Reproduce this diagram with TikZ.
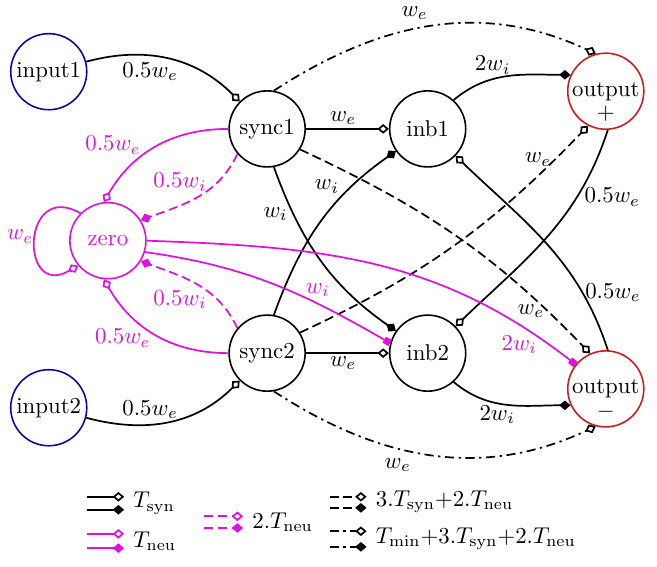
\documentclass[tikz,border=0pt]{standalone}
\usepackage{amsmath}
\usepackage{xcolor}
\usetikzlibrary{arrows.meta,positioning,calc}
\definecolor{InBlue}{RGB}{10,10,170}
\definecolor{OutRed}{RGB}{205,30,30}
\definecolor{ZeroMag}{RGB}{225,15,225}
\tikzset{
  neuron/.style={draw,circle,line width=0.7pt,minimum size=1.17cm,inner sep=0pt},
  innode/.style={neuron,draw=InBlue},
  outnode/.style={neuron,draw=OutRed},
  zeronode/.style={neuron,draw=ZeroMag,text=ZeroMag},
  exc/.style={-{Diamond[open,length=5pt,width=4.2pt]},line width=0.75pt},
  inh/.style={-{Diamond[length=5pt,width=4.2pt]},line width=0.75pt},
  inhsq/.style={-{Square[length=3pt,width=3pt]},line width=0.75pt},
  dsh/.style={dash pattern=on 4pt off 2pt},
  dshdot/.style={dash pattern=on 4pt off 2pt on 1pt off 2pt},
  lbl/.style={inner sep=1pt},
  sign/.style={inner sep=0pt},
}
\begin{document}
\begin{tikzpicture}
    \useasboundingbox (0,0) rectangle (10.108,8.723);
    % Node definitions
    \node[innode] (input1) at (0.75, 7.62) {input1};
    \node[innode] (input2) at (0.75, 2.45) {input2};
    \node[zeronode] (zero) at (1.66, 5.02) {zero};
    \node[neuron] (sync1) at (4.11, 6.74) {sync1};
    \node[neuron] (sync2) at (4.11, 3.29) {sync2};
    \node[neuron] (inb1) at (6.58, 6.74) {inb1};
    \node[neuron] (inb2) at (6.58, 3.29) {inb2};
    \node[outnode, label={[sign, name=plus, yshift=-0.34cm]center:$+$}] (outp) at (9.32, 7.32) {output};
    \node[outnode, label={[sign, name=minus, yshift=-0.36cm]center:$-$}] (outm) at (9.32, 2.74) {output};

    % Edges
    \draw[exc] (input1) to[out=15,in=135] (sync1);
    \draw[exc] (input2) to[out=-15,in=225] (sync2);
    \draw[exc] (sync1) -- (inb1);
    \draw[exc] (sync2) -- (inb2);
    \draw[inh] (sync1.-80) to[out=-70,in=145] (inb2);
    \draw[inh] (sync2.80) to[out=70,in=215] (inb1);
    \draw[exc, dshdot] (sync1.80) to[out=33,in=155] (outp.105);
    \draw[exc, dshdot] (sync2.-80) to[out=-33,in=205] (outm.-105);
    \draw[exc, dsh] (sync1.-32) to[out=-25,in=134] (outm.114);
    \draw[exc, dsh] (sync2.32) to[out=25,in=226] (outp.243);
    \draw[inh] (inb1.48) to[out=40,in=180] (outp.155);
    \draw[inh] (inb2.-48) to[out=-40,in=180] (outm.205);
    \draw[exc] (outp.-87) to[out=-108,in=44] (inb2.44);
    \draw[exc] (outm.87) to[out=108,in=-44] (inb1.-44);
    % zero neuron
    \draw[exc, ZeroMag] (sync1.west) to[out=180,in=60] (zero.96);
    \draw[inh, ZeroMag, dsh] (sync1.220) to[out=-115,in=20] (zero.32);
    \draw[exc, ZeroMag] (sync2.west) to[out=180,in=-60] (zero.-96);
    \draw[inh, ZeroMag, dsh] (sync2.140) to[out=115,in=-20] (zero.-32);
    \draw[exc, ZeroMag] (zero.135) .. controls +(150:1.05) and +(210:1.05) .. (zero.220);
    \draw[inhsq, ZeroMag] (zero.-17) to[out=-8,in=150] (inb2.165);
    \draw[inhsq, ZeroMag] (zero.east) to[out=-2,in=142] (outm.141);

    % Labels
    \node[lbl] (w-in1) at (2.31, 7.62) {$0.5w_e$};
    \node[lbl] (w-in2) at (2.31, 2.42) {$0.5w_e$};
    \node[lbl] (w-s1i1) at (5.28, 6.91) {$w_e$};
    \node[lbl] (w-s2i2) at (5.28, 3.14) {$w_e$};
    \node[lbl] (w-s1i2) at (4.24, 5.43) {$w_i$};
    \node[lbl] (w-s2i1) at (5.03, 5.85) {$w_i$};
    \node[lbl] (w-s1op) at (6.38, 8.52) {$w_e$};
    \node[lbl] (w-s2om) at (6.12, 1.57) {$w_e$};
    \node[lbl] (w-i1op) at (7.58, 7.72) {$2w_i$};
    \node[lbl] (w-i2om) at (7.65, 2.34) {$2w_i$};
    \node[lbl] (w-s2op) at (8.28, 6.27) {$w_e$};
    \node[lbl] (w-s1om) at (8.17, 3.94) {$w_e$};
    \node[lbl] (w-opi2) at (9.42, 5.69) {$0.5w_e$};
    \node[lbl] (w-omi1) at (9.43, 4.22) {$0.5w_e$};
    \node[lbl, ZeroMag] (w-s1z) at (1.74, 6.49) {$0.5w_e$};
    \node[lbl, ZeroMag] (w-s1zi) at (2.77, 5.92) {$0.5w_i$};
    \node[lbl, ZeroMag] (w-s2z) at (1.89, 3.52) {$0.5w_e$};
    \node[lbl, ZeroMag] (w-s2zi) at (2.77, 4.11) {$0.5w_i$};
    \node[lbl, ZeroMag] (w-zz) at (0.31, 5.08) {$w_e$};
    \node[lbl, ZeroMag] (w-zi2) at (4.89, 4.26) {$w_i$};
    \node[lbl, ZeroMag] (w-zom) at (7.99, 3.42) {$2w_i$};

    % Legend
    \node[lbl, anchor=west] (k-syn) at (2.01, 0.98) {$T_{\mathrm{syn}}$};
    \node[lbl, anchor=west] (k-neu) at (2.01, 0.40) {$T_{\mathrm{neu}}$};
    \node[lbl, anchor=west] (k-neu2) at (3.84, 0.69) {$2.T_{\mathrm{neu}}$};
    \node[lbl, anchor=west] (k-mix) at (5.74, 1.00) {$3.T_{\mathrm{syn}}{+}2.T_{\mathrm{neu}}$};
    \node[lbl, anchor=west] (k-min) at (5.74, 0.43) {$T_{\mathrm{min}}{+}3.T_{\mathrm{syn}}{+}2.T_{\mathrm{neu}}$};
    \draw[exc] ([xshift=-0.67cm,yshift=0.1cm]k-syn.west) -- ([xshift=-0.1cm,yshift=0.1cm]k-syn.west);
    \draw[inh] ([xshift=-0.67cm,yshift=-0.1cm]k-syn.west) -- ([xshift=-0.1cm,yshift=-0.1cm]k-syn.west);
    \draw[exc, ZeroMag] ([xshift=-0.67cm,yshift=0.11cm]k-neu.west) -- ([xshift=-0.1cm,yshift=0.11cm]k-neu.west);
    \draw[inh, ZeroMag] ([xshift=-0.67cm,yshift=-0.11cm]k-neu.west) -- ([xshift=-0.1cm,yshift=-0.11cm]k-neu.west);
    \draw[exc, ZeroMag, dsh] ([xshift=-0.7cm,yshift=0.09cm]k-neu2.west) -- ([xshift=-0.1cm,yshift=0.09cm]k-neu2.west);
    \draw[inh, ZeroMag, dsh] ([xshift=-0.7cm,yshift=-0.09cm]k-neu2.west) -- ([xshift=-0.1cm,yshift=-0.09cm]k-neu2.west);
    \draw[exc, dsh] ([xshift=-0.67cm,yshift=0.08cm]k-mix.west) -- ([xshift=-0.1cm,yshift=0.08cm]k-mix.west);
    \draw[inh, dsh] ([xshift=-0.67cm,yshift=-0.09cm]k-mix.west) -- ([xshift=-0.1cm,yshift=-0.09cm]k-mix.west);
    \draw[exc, dshdot] ([xshift=-0.67cm,yshift=0.12cm]k-min.west) -- ([xshift=-0.1cm,yshift=0.12cm]k-min.west);
    \draw[inh, dshdot] ([xshift=-0.67cm,yshift=-0.12cm]k-min.west) -- ([xshift=-0.1cm,yshift=-0.12cm]k-min.west);
\end{tikzpicture}
\end{document}
